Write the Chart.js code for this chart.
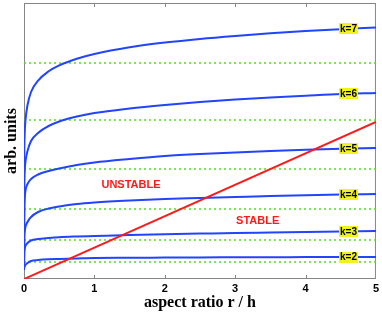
<!DOCTYPE html>
<html>
<head>
<meta charset="utf-8">
<script src="https://cdn.jsdelivr.net/npm/chart.js@4.4.1/dist/chart.umd.min.js"></script>
<style>
  html, body { margin: 0; padding: 0; background: #fff; }
</style>
</head>
<body>
<canvas id="grafica-modos" width="382" height="313"></canvas>
<script>
// Relación de aspecto r / h (eje x)
const razon = [0, 0.003, 0.01, 0.02, 0.05, 0.1, 0.2, 0.35, 0.5, 0.75, 1, 1.5, 2, 2.5, 3, 3.5, 4, 4.5, 5];

// Curvas de cada modo k (unidades arbitrarias)
const modoK2 = [9, 11, 12.5, 14, 16, 18, 19, 19.7, 20, 20.5, 21, 21.2, 21.4, 21.6, 21.7, 21.8, 21.9, 22, 22];
const modoK3 = [9, 25, 30, 33, 36, 38.5, 40, 41, 41.8, 42.5, 43, 44, 44.8, 45.4, 46, 46.5, 47, 47.5, 48];
const modoK4 = [9, 38, 47, 52, 57, 62, 67, 70.5, 72.5, 75, 76.5, 78.5, 80, 81, 82, 83, 83.8, 84.5, 85];
const modoK5 = [9, 62, 80, 88, 95, 100, 104.5, 108, 110.5, 114, 116.5, 120, 123, 125, 126.5, 128, 129.2, 130.2, 131];
const modoK6 = [9, 85, 108, 117, 128, 138, 146, 153, 157.5, 162.5, 166, 170.5, 174, 177, 179.5, 181.5, 183.3, 185, 186];
const modoK7 = [9, 110, 145, 158, 174, 187, 198.4, 207.7, 213.6, 220.3, 225, 231.7, 236.4, 240.1, 243.1, 245.7, 247.9, 249.8, 251.6];
const modos = [modoK2, modoK3, modoK4, modoK5, modoK6, modoK7];
const etiquetasK = ['k=2', 'k=3', 'k=4', 'k=5', 'k=6', 'k=7'];

// Niveles horizontales (punteados verdes)
const umbrales = [17, 39, 70, 110, 159, 216];

// Recta de estabilidad
const rectaX = [0, 5];
const rectaY = [0, 157];

// Textos de regiones
const regiones = [
  { texto: 'UNSTABLE', x: 1.52, y: 94.5 },
  { texto: 'STABLE', x: 3.32, y: 58.5 }
];
const xEtiquetaK = 4.61;

const AZUL = '#2244ff';
const ROJO = '#ff1a1a';
const VERDE = '#55dd22';
const GRIS = '#858585';

const datasets = [];

umbrales.forEach(u => {
  datasets.push({
    data: [{ x: 0, y: u }, { x: 5, y: u }],
    borderColor: VERDE,
    borderWidth: 1.5,
    borderDash: [2, 3],
    pointRadius: 0,
    order: 3
  });
});

modos.forEach(serie => {
  datasets.push({
    data: razon.map((r, i) => ({ x: r, y: serie[i] })),
    borderColor: AZUL,
    borderWidth: 2,
    pointRadius: 0,
    cubicInterpolationMode: 'monotone',
    order: 2
  });
});

datasets.push({
  data: rectaX.map((r, i) => ({ x: r, y: rectaY[i] })),
  borderColor: ROJO,
  borderWidth: 2,
  pointRadius: 0,
  order: 1
});

// Valor de una serie en x (interpolación lineal entre muestras)
function valorEn(serie, x) {
  for (let i = 1; i < razon.length; i++) {
    if (x <= razon[i]) {
      const t = (x - razon[i - 1]) / (razon[i] - razon[i - 1]);
      return serie[i - 1] + t * (serie[i] - serie[i - 1]);
    }
  }
  return serie[serie.length - 1];
}

// Marco con marcas hacia dentro
const marco = {
  id: 'marco',
  beforeDatasetsDraw(chart) {
    const { ctx, chartArea: a, scales } = chart;
    ctx.save();
    ctx.strokeStyle = GRIS;
    ctx.lineWidth = 1;
    ctx.strokeRect(a.left + 0.5, a.top + 0.5, a.right - a.left - 1, a.bottom - a.top - 1);
    ctx.beginPath();
    [1, 2, 3, 4].forEach(v => {
      const px = Math.round(scales.x.getPixelForValue(v)) + 0.5;
      ctx.moveTo(px, a.bottom);
      ctx.lineTo(px, a.bottom - 4);
      ctx.moveTo(px, a.top);
      ctx.lineTo(px, a.top + 4);
    });
    ctx.stroke();
    ctx.restore();
  },
  afterDatasetsDraw(chart) {
    const { ctx, scales } = chart;
    ctx.save();
    ctx.textAlign = 'center';
    ctx.textBaseline = 'middle';

    // Etiquetas k=
    ctx.font = 'bold 10px "Liberation Sans", Arial, sans-serif';
    modos.forEach((serie, i) => {
      const px = scales.x.getPixelForValue(xEtiquetaK);
      const py = scales.y.getPixelForValue(valorEn(serie, xEtiquetaK));
      const w = ctx.measureText(etiquetasK[i]).width + 2;
      ctx.fillStyle = '#f2f21c';
      ctx.fillRect(Math.round(px - w / 2), Math.round(py - 5.5), Math.round(w), 11);
      ctx.fillStyle = '#000';
      ctx.fillText(etiquetasK[i], px, py + 0.5);
    });

    // Regiones
    ctx.font = 'bold 11px "Liberation Sans", Arial, sans-serif';
    ctx.fillStyle = ROJO;
    regiones.forEach(r => {
      ctx.fillText(r.texto, scales.x.getPixelForValue(r.x), scales.y.getPixelForValue(r.y));
    });
    ctx.restore();
  }
};

const grafica = new Chart(document.getElementById('grafica-modos').getContext('2d'), {
  type: 'line',
  data: { datasets },
  options: {
    responsive: false,
    animation: false,
    devicePixelRatio: 1,
    layout: { padding: { top: 3, right: 6, left: 0, bottom: 0 } },
    plugins: { legend: { display: false }, tooltip: { enabled: false } },
    scales: {
      x: {
        type: 'linear',
        min: 0,
        max: 5,
        ticks: {
          stepSize: 1,
          color: '#000',
          padding: 3,
          font: { family: '"Liberation Sans", Arial, sans-serif', weight: 'bold', size: 11 }
        },
        grid: { display: false, drawTicks: false },
        border: { display: false },
        title: {
          display: true,
          text: 'aspect ratio r / h',
          color: '#000',
          font: { family: '"Liberation Serif", "Times New Roman", serif', weight: 'bold', size: 16 },
          padding: { top: 0, bottom: 1 }
        },
        afterFit(s) { s.height = 34; }
      },
      y: {
        type: 'linear',
        min: 0,
        max: 276,
        ticks: { display: false },
        grid: { display: false, drawTicks: false },
        border: { display: false },
        title: {
          display: true,
          text: 'arb. units',
          color: '#000',
          font: { family: '"Liberation Serif", "Times New Roman", serif', weight: 'bold', size: 16 },
          padding: { top: 2, bottom: 0 }
        },
        afterFit(s) { s.width = 24; }
      }
    }
  },
  plugins: [marco]
});
</script>
</body>
</html>
